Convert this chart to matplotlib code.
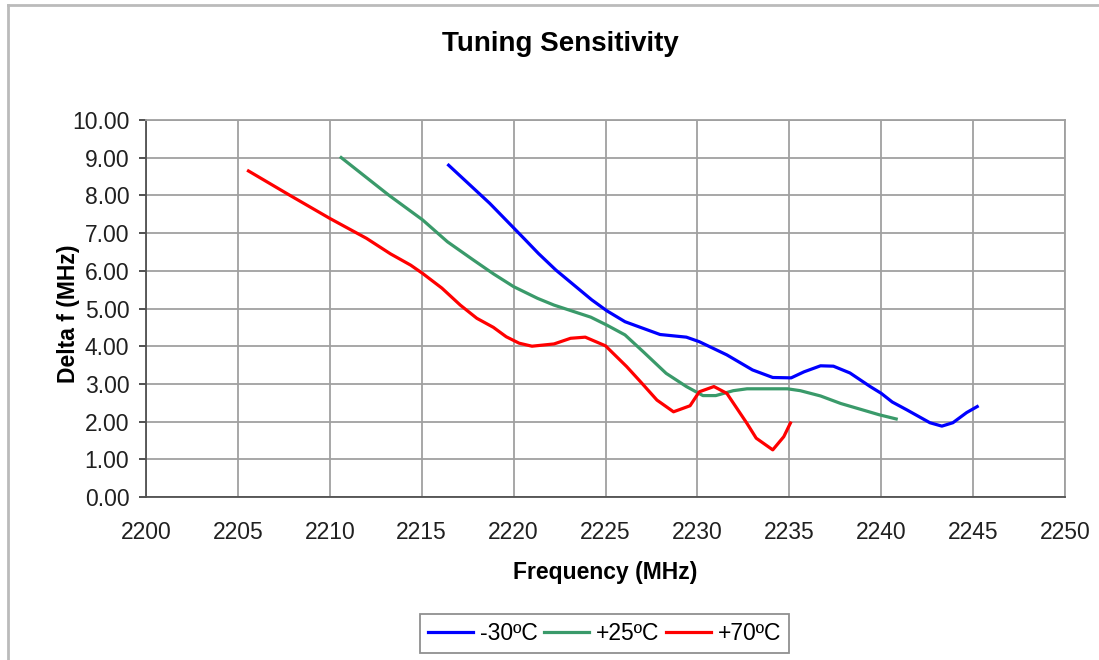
import matplotlib
matplotlib.use("Agg")
import matplotlib.pyplot as plt
from matplotlib.lines import Line2D

plt.rcParams['font.family'] = ['Liberation Sans', 'DejaVu Sans']

# ---- data ----
freq_m30 = [2216.4, 2218.7, 2220.2, 2220.6, 2221.35, 2222.3, 2224.25, 2225.07, 2226.06,
            2226.9, 2227.97, 2229.4, 2230.1, 2231.6, 2233.0, 2234.1, 2235.1, 2235.8,
            2236.7, 2237.4, 2238.3, 2239.4, 2240.0, 2240.6, 2241.4, 2242.65, 2243.3,
            2243.9, 2244.65, 2245.3]
df_m30 = [8.83, 7.79, 7.04, 6.84, 6.46, 6.02, 5.23, 4.94, 4.65,
          4.50, 4.31, 4.24, 4.12, 3.77, 3.37, 3.17, 3.16, 3.32,
          3.48, 3.47, 3.29, 2.93, 2.75, 2.52, 2.31, 1.97, 1.88,
          1.97, 2.24, 2.42]

freq_p25 = [2210.55, 2213.2, 2215.05, 2216.4, 2217.8, 2218.9, 2220.0, 2221.3, 2222.2,
            2224.2, 2225.07, 2226.06, 2227.06, 2228.3, 2229.4, 2230.3, 2231.0, 2231.95,
            2232.7, 2234.9, 2235.6, 2236.7, 2237.8, 2238.85, 2239.9, 2240.9]
df_p25 = [9.03, 8.01, 7.35, 6.77, 6.29, 5.92, 5.58, 5.27, 5.09,
          4.77, 4.56, 4.30, 3.85, 3.28, 2.93, 2.69, 2.69, 2.82,
          2.87, 2.87, 2.82, 2.68, 2.48, 2.33, 2.18, 2.06]

freq_p70 = [2205.5, 2207.8, 2210.0, 2212.0, 2213.3, 2214.4, 2215.05, 2216.1, 2217.1,
            2218.0, 2218.9, 2219.6, 2220.3, 2221.0, 2222.2, 2223.1, 2223.9, 2225.0,
            2226.15, 2226.9, 2227.8, 2228.7, 2229.6, 2230.1, 2230.9, 2231.6, 2232.7,
            2233.2, 2234.1, 2234.7, 2235.1]
df_p70 = [8.67, 8.01, 7.39, 6.86, 6.45, 6.15, 5.93, 5.54, 5.09,
          4.74, 4.50, 4.25, 4.08, 4.00, 4.06, 4.21, 4.24, 4.01,
          3.46, 3.06, 2.57, 2.26, 2.42, 2.79, 2.93, 2.75, 1.95,
          1.56, 1.25, 1.60, 2.00]

series_labels = ['-30ºC', '+25ºC', '+70ºC']
series_colors = ['#0000FF', '#3A9A6A', '#FF0000']

x_ticks = list(range(2200, 2251, 5))
y_ticks = [i * 1.0 for i in range(11)]

# ---- figure ----
W, H = 1099, 660
fig = plt.figure(figsize=(W / 100, H / 100), dpi=100)
ax = fig.add_axes([146 / W, 1 - 497 / H, (1065 - 146) / W, (497 - 120) / H])

for xs, ys, c in zip([freq_m30, freq_p25, freq_p70], [df_m30, df_p25, df_p70], series_colors):
    ax.plot(xs, ys, color=c, linewidth=2.3, solid_capstyle='butt',
            solid_joinstyle='round', zorder=3)

ax.set_xlim(2200, 2250)
ax.set_ylim(0, 10)
ax.set_xticks(x_ticks)
ax.set_yticks(y_ticks)
ax.set_yticklabels([f"{v:.2f}" for v in y_ticks])
ax.grid(True, color='#A0A0A0', linewidth=1.3)
ax.set_axisbelow(True)

ax.tick_params(axis='x', length=0, pad=17, labelsize=16.5, colors='#202020')
ax.tick_params(axis='y', length=5, width=1.1, pad=7, labelsize=16.5, colors='#202020',
               direction='out')
for s in ['top', 'right']:
    ax.spines[s].set_color('#A0A0A0')
    ax.spines[s].set_linewidth(1.3)
for s in ['left', 'bottom']:
    ax.spines[s].set_color('#505050')
    ax.spines[s].set_linewidth(1.3)

fig.text(560 / W, 1 - 44 / H, 'Tuning Sensitivity', ha='center', va='center',
         fontsize=20, fontweight='bold')
fig.text(605.5 / W, 1 - 572 / H, 'Frequency (MHz)', ha='center', va='center',
         fontsize=16.5, fontweight='bold')
fig.text(68 / W, 1 - 314 / H, 'Delta f (MHz)', ha='center', va='center',
         rotation=90, fontsize=16.5, fontweight='bold')

handles = [Line2D([0], [0], color=c, linewidth=2.3) for c in series_colors]
leg = fig.legend(handles, series_labels, loc='center', ncol=3,
                 bbox_to_anchor=(604.7 / W, 1 - 633.7 / H), bbox_transform=fig.transFigure,
                 fontsize=16.5, frameon=True, fancybox=False, framealpha=1,
                 handlelength=1.95, handletextpad=0.3, columnspacing=0.3,
                 borderpad=0.35, borderaxespad=0)
leg.get_frame().set_edgecolor('#909090')
leg.get_frame().set_linewidth(1.3)

# outer chart border (only left and top visible)
fig.add_artist(Line2D([7.5 / W, 7.5 / W], [0, 1 - 4.7 / H], transform=fig.transFigure,
                      color='#BBBBBB', linewidth=2))
fig.add_artist(Line2D([7.5 / W, 1], [1 - 4.7 / H, 1 - 4.7 / H], transform=fig.transFigure,
                      color='#BBBBBB', linewidth=2))

fig.savefig('out.png', dpi=100)
